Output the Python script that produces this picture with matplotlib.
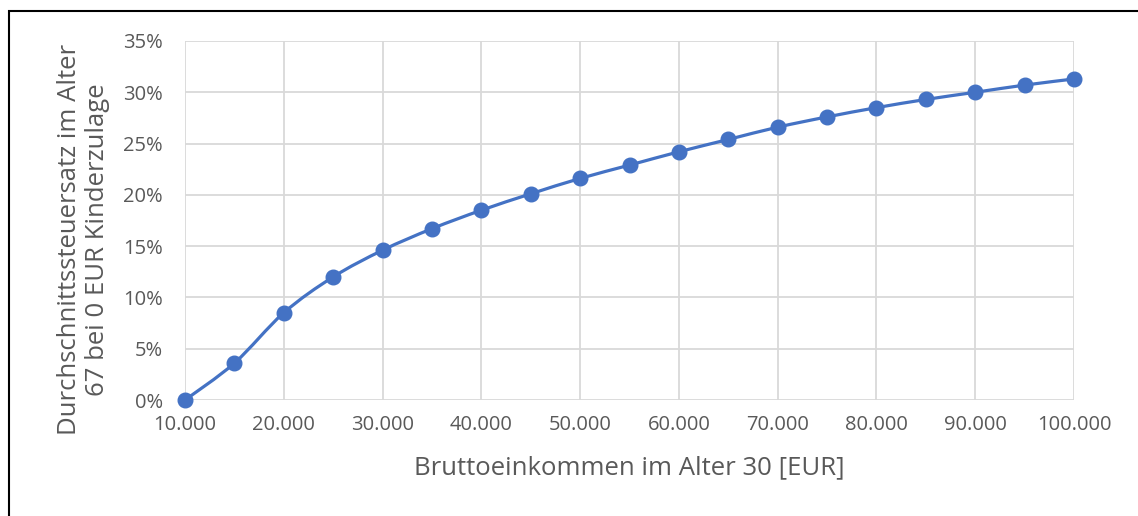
import matplotlib.pyplot as plt
import numpy as np
from matplotlib.path import Path
from matplotlib.patches import PathPatch, Rectangle
from matplotlib.ticker import FuncFormatter

# data
einkommen = [10000, 15000, 20000, 25000, 30000, 35000, 40000, 45000, 50000, 55000,
             60000, 65000, 70000, 75000, 80000, 85000, 90000, 95000, 100000]
steuersatz = [0.000, 0.036, 0.085, 0.120, 0.146, 0.167, 0.185, 0.201, 0.216, 0.229,
              0.242, 0.254, 0.266, 0.276, 0.285, 0.293, 0.300, 0.307, 0.313]

blue = '#4472C4'
grey_text = '#595959'
plt.rcParams['font.family'] = ['Open Sans', 'DejaVu Sans']

fig = plt.figure(figsize=(11.38, 5.16), dpi=100)
ax = fig.add_axes([185/1138, 1 - 400/516, (1074 - 185)/1138, (400 - 41)/516])

# smoothed line like Excel (Catmull-Rom -> cubic bezier in data coords)
x = np.array(einkommen, float)
y = np.array(steuersatz, float)
verts = [(x[0], y[0])]
codes = [Path.MOVETO]
n = len(x)
for i in range(n - 1):
    p0 = (x[i-1], y[i-1]) if i > 0 else (x[i], y[i])
    p1 = (x[i], y[i])
    p2 = (x[i+1], y[i+1])
    p3 = (x[i+2], y[i+2]) if i + 2 < n else p2
    c1 = (p1[0] + (p2[0] - p0[0]) / 6, p1[1] + (p2[1] - p0[1]) / 6)
    c2 = (p2[0] - (p3[0] - p1[0]) / 6, p2[1] - (p3[1] - p1[1]) / 6)
    verts += [c1, c2, p2]
    codes += [Path.CURVE4] * 3
ax.add_patch(PathPatch(Path(verts, codes), fill=False, edgecolor=blue, lw=2.3,
                       capstyle='round', joinstyle='round', zorder=3))
ax.plot(einkommen, steuersatz, 'o', color=blue, markersize=10.5, zorder=4, clip_on=False)

ax.set_xlim(10000, 100000)
ax.set_ylim(0, 0.35)
ax.set_xticks(np.arange(10000, 100001, 10000))
ax.set_yticks(np.arange(0, 0.351, 0.05))
ax.xaxis.set_major_formatter(FuncFormatter(lambda v, p: f'{int(v):,}'.replace(',', '.')))
ax.yaxis.set_major_formatter(FuncFormatter(lambda v, p: f'{v*100:.0f}%'))
ax.grid(True, color='#d9d9d9', lw=1.3)
ax.set_axisbelow(True)
for s in ax.spines.values():
    s.set_visible(False)
ax.tick_params(length=0, labelsize=14.5, colors=grey_text)
ax.tick_params(axis='y', pad=16)
ax.tick_params(axis='x', pad=11)

ax.set_xlabel('Bruttoeinkommen im Alter 30 [EUR]', fontsize=18.5, color=grey_text)
ax.set_ylabel('Durchschnittssteuersatz im Alter\n67 bei 0 EUR Kinderzulage', fontsize=18.5,
              color=grey_text, linespacing=1.15)
ax.xaxis.set_label_coords(0.5, -0.155)
ax.yaxis.set_label_coords(-0.084, 0.446)

# outer frame (only left and top edges visible in the image)
fig.patches.append(Rectangle((9/1138, -0.1), 1.2, 1 - 11/516 + 0.1, transform=fig.transFigure,
                             fill=False, edgecolor='black', lw=1.5))

fig.savefig('out.png', dpi=100)
